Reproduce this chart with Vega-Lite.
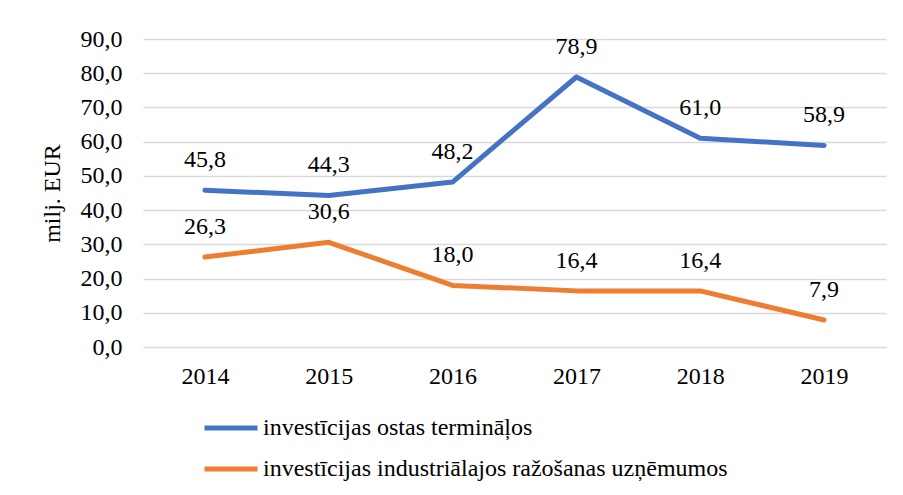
{
  "$schema": "https://vega.github.io/schema/vega-lite/v6.json",
  "autosize": {"type": "none"},
  "width": 743,
  "height": 308,
  "padding": {"left": 143, "top": 39, "right": 17, "bottom": 148},
  "background": "white",
  "config": {
    "locale": {"number": {"decimal": ",", "thousands": " ", "grouping": [3], "currency": ["", " €"]}},
    "font": "Liberation Serif",
    "view": {"stroke": null}
  },
  "data": {
    "values": [
      {"year": "2014", "series": "investīcijas ostas termināļos", "value": 45.8},
      {"year": "2015", "series": "investīcijas ostas termināļos", "value": 44.3},
      {"year": "2016", "series": "investīcijas ostas termināļos", "value": 48.2},
      {"year": "2017", "series": "investīcijas ostas termināļos", "value": 78.9},
      {"year": "2018", "series": "investīcijas ostas termināļos", "value": 61.0},
      {"year": "2019", "series": "investīcijas ostas termināļos", "value": 58.9},
      {"year": "2014", "series": "investīcijas industriālajos ražošanas uzņēmumos", "value": 26.3},
      {"year": "2015", "series": "investīcijas industriālajos ražošanas uzņēmumos", "value": 30.6},
      {"year": "2016", "series": "investīcijas industriālajos ražošanas uzņēmumos", "value": 18.0},
      {"year": "2017", "series": "investīcijas industriālajos ražošanas uzņēmumos", "value": 16.4},
      {"year": "2018", "series": "investīcijas industriālajos ražošanas uzņēmumos", "value": 16.4},
      {"year": "2019", "series": "investīcijas industriālajos ražošanas uzņēmumos", "value": 7.9}
    ]
  },
  "encoding": {
    "x": {
      "field": "year", "type": "ordinal",
      "scale": {"type": "point", "padding": 0.5},
      "axis": {"title": null, "labelAngle": 0, "domain": false, "ticks": false, "labelFontSize": 24, "labelColor": "black", "labelPadding": 17, "labelFont": "Liberation Serif"}
    },
    "y": {
      "field": "value", "type": "quantitative",
      "scale": {"domain": [0, 90], "nice": false},
      "axis": {
        "title": "milj. EUR", "titleFontSize": 24, "titleFontWeight": "normal", "titleColor": "black", "titleFont": "Liberation Serif", "titlePadding": 16,
        "values": [0, 10, 20, 30, 40, 50, 60, 70, 80, 90], "format": ".1f",
        "domain": false, "ticks": false, "labelFontSize": 24, "labelColor": "black", "labelPadding": 21, "labelFont": "Liberation Serif",
        "gridColor": "#d9d9d9", "gridWidth": 1.3
      }
    },
    "color": {
      "field": "series", "type": "nominal",
      "scale": {"domain": ["investīcijas ostas termināļos", "investīcijas industriālajos ražošanas uzņēmumos"], "range": ["#4472C4", "#ED7D31"]},
      "legend": {
        "title": null, "orient": "none", "legendX": 59, "legendY": 360, "direction": "vertical",
        "symbolType": "stroke", "symbolSize": 2809, "symbolStrokeWidth": 5,
        "labelFontSize": 24, "labelColor": "black", "labelFont": "Liberation Serif", "labelOffset": 3, "labelLimit": 600, "rowPadding": 0, "padding": 0
      }
    }
  },
  "layer": [
    {"mark": {"type": "line", "strokeWidth": 5, "strokeCap": "round", "strokeJoin": "round"}},
    {"mark": {"type": "text", "dy": -30, "fontSize": 24, "color": "black", "font": "Liberation Serif"},
     "encoding": {"text": {"field": "value", "type": "quantitative", "format": ".1f"}, "color": {"value": "black"}}}
  ]
}
